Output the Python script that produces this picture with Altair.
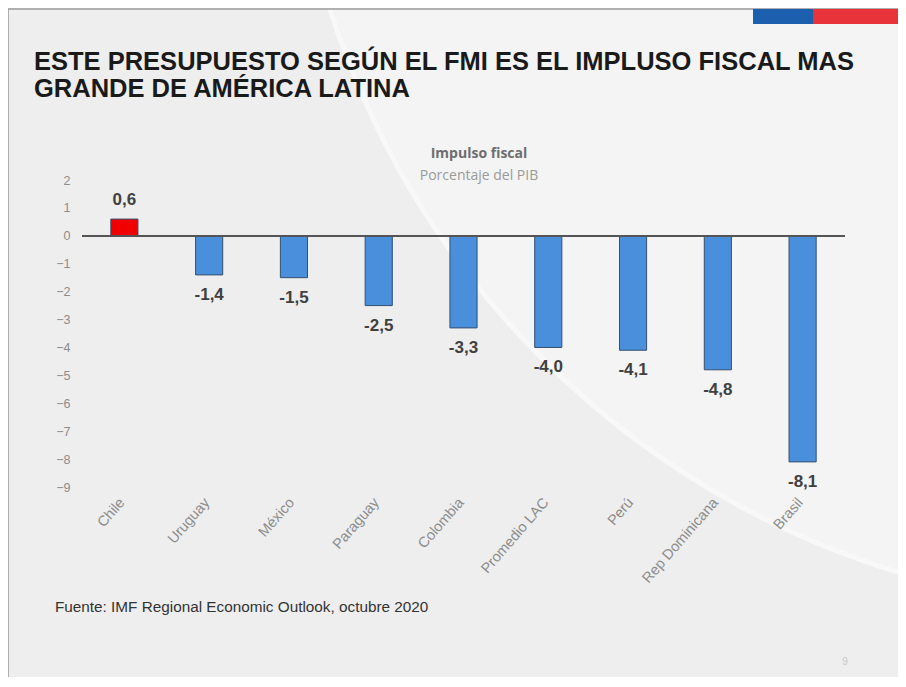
import altair as alt
import pandas as pd

countries = ["Chile", "Uruguay", "México", "Paraguay", "Colombia",
             "Promedio LAC", "Perú", "Rep Dominicana", "Brasil"]
values = [0.6, -1.4, -1.5, -2.5, -3.3, -4.0, -4.1, -4.8, -8.1]
labels = ["0,6", "-1,4", "-1,5", "-2,5", "-3,3", "-4,0", "-4,1", "-4,8", "-8,1"]
y_ticks = [2, 1, 0, -1, -2, -3, -4, -5, -6, -7, -8, -9]

title_lines = ["ESTE PRESUPUESTO SEGÚN EL FMI ES EL IMPLUSO FISCAL MAS",
               "GRANDE DE AMÉRICA LATINA"]
chart_title = "Impulso fiscal"
chart_subtitle = "Porcentaje del PIB"
source = "Fuente: IMF Regional Economic Outlook, octubre 2020"
page_no = "9"

df = pd.DataFrame({"pais": countries, "valor": values, "etiqueta": labels})

W, H = 763, 307

x_axis = alt.Axis(title=None, labelAngle=-49, labelAlign="right",
                  labelBaseline="middle", labelPadding=13, labelOffset=-2,
                  labelFontSize=14.5, labelColor="#8c8c8c",
                  labelFont="Liberation Sans", labelOverlap=False,
                  domain=False, ticks=False, grid=False, zindex=1)
y_axis = alt.Axis(title=None, values=y_ticks, domain=False, ticks=False,
                  grid=False, labelColor="#8c8c8c", labelFontSize=12.5,
                  labelFont="Liberation Sans", labelPadding=12,
                  labelOverlap=False, zindex=1)
x_scale = alt.Scale(paddingInner=0.68, paddingOuter=0.34)
y_scale = alt.Scale(domain=[-9, 2], nice=False, zero=False)

base = alt.Chart(df)

bars = base.mark_bar(stroke="#34506e", strokeWidth=1).encode(
    x=alt.X("pais:N", sort=countries, scale=x_scale, axis=x_axis),
    y=alt.Y("valor:Q", scale=y_scale, axis=y_axis),
    y2=alt.datum(0),
    color=alt.condition(alt.datum.valor > 0, alt.value("#f00000"), alt.value("#4a8fdb")),
)

zero = base.mark_rule(color="#555555", strokeWidth=1.2).encode(
    y=alt.datum(0, scale=y_scale, axis=y_axis))

lab_pos = base.transform_filter(alt.datum.valor > 0).mark_text(
    dy=-19, fontSize=17, fontWeight="bold", color="#404040",
    font="Liberation Sans", baseline="middle").encode(
    x=alt.X("pais:N", sort=countries, scale=x_scale, axis=x_axis),
    y=alt.Y("valor:Q", scale=y_scale, axis=y_axis), text="etiqueta:N")
lab_neg = base.transform_filter(alt.datum.valor < 0).mark_text(
    dy=20, fontSize=17, fontWeight="bold", color="#404040",
    font="Liberation Sans", baseline="middle").encode(
    x=alt.X("pais:N", sort=countries, scale=x_scale, axis=x_axis),
    y=alt.Y("valor:Q", scale=y_scale, axis=y_axis), text="etiqueta:N")

one = pd.DataFrame({"k": [0]})

def txt(s, x, y, **kw):
    return alt.Chart(one).mark_text(text=s, **kw).encode(x=alt.value(x), y=alt.value(y))

def rect(x, x2, y, y2, color):
    return alt.Chart(one).mark_rect(color=color).encode(
        x=alt.value(x), x2=alt.value(x2), y=alt.value(y), y2=alt.value(y2))

# slide decorations (relative to plot origin at page (82,180))
swoosh = alt.Chart(one).mark_arc(radius=860, theta=0, theta2=6.2832,
                                 color="#f4f4f4", stroke="#f8f8f8",
                                 strokeWidth=5).encode(
    x=alt.value(1068), y=alt.value(-430))
border_top = alt.Chart(one).mark_rule(color="#9a9a9a", strokeWidth=1.5).encode(
    x=alt.value(-74), x2=alt.value(830), y=alt.value(-171))
border_left = alt.Chart(one).mark_rule(color="#9a9a9a", strokeWidth=1.5).encode(
    x=alt.value(-74), y=alt.value(-171), y2=alt.value(510))
flag_blue = rect(671, 731, -171, -156, "#1c5fae")
flag_red = rect(731, 816, -171, -156, "#e8333a")

t1 = txt(title_lines[0], -48, -110, fontSize=25.5, fontWeight="bold", color="#1a1a1a",
         font="Liberation Sans", align="left", baseline="alphabetic")
t2 = txt(title_lines[1], -48, -83, fontSize=25.5, fontWeight="bold", color="#1a1a1a",
         font="Liberation Sans", align="left", baseline="alphabetic")
st1 = txt(chart_title, 397, -26, fontSize=14, fontWeight="bold", color="#6e6e6e",
          font="Open Sans", align="center", baseline="middle")
st2 = txt(chart_subtitle, 397, -4, fontSize=14, color="#9a9a9a",
          font="Open Sans", align="center", baseline="middle")
src = txt(source, -27, 432, fontSize=15.3, color="#333333", font="Liberation Sans",
          align="left", baseline="alphabetic")
pg = txt(page_no, 763, 482, fontSize=10, color="#c8c8c8", font="Liberation Sans",
         align="center", baseline="middle")

chart = alt.layer(
    swoosh, border_top, border_left, flag_blue, flag_red,
    bars, zero, lab_pos, lab_neg,
    t1, t2, st1, st2, src, pg,
).properties(
    width=W, height=H,
    padding={"left": 74, "top": 172, "right": 53, "bottom": 190},
    autosize=alt.AutoSizeParams(type="none"),
    background="#eeeeee",
).configure_view(stroke=None).configure_axis(labelOverlap=False)

chart.save("out.html", embed_options={"renderer": "svg", "actions": False})
